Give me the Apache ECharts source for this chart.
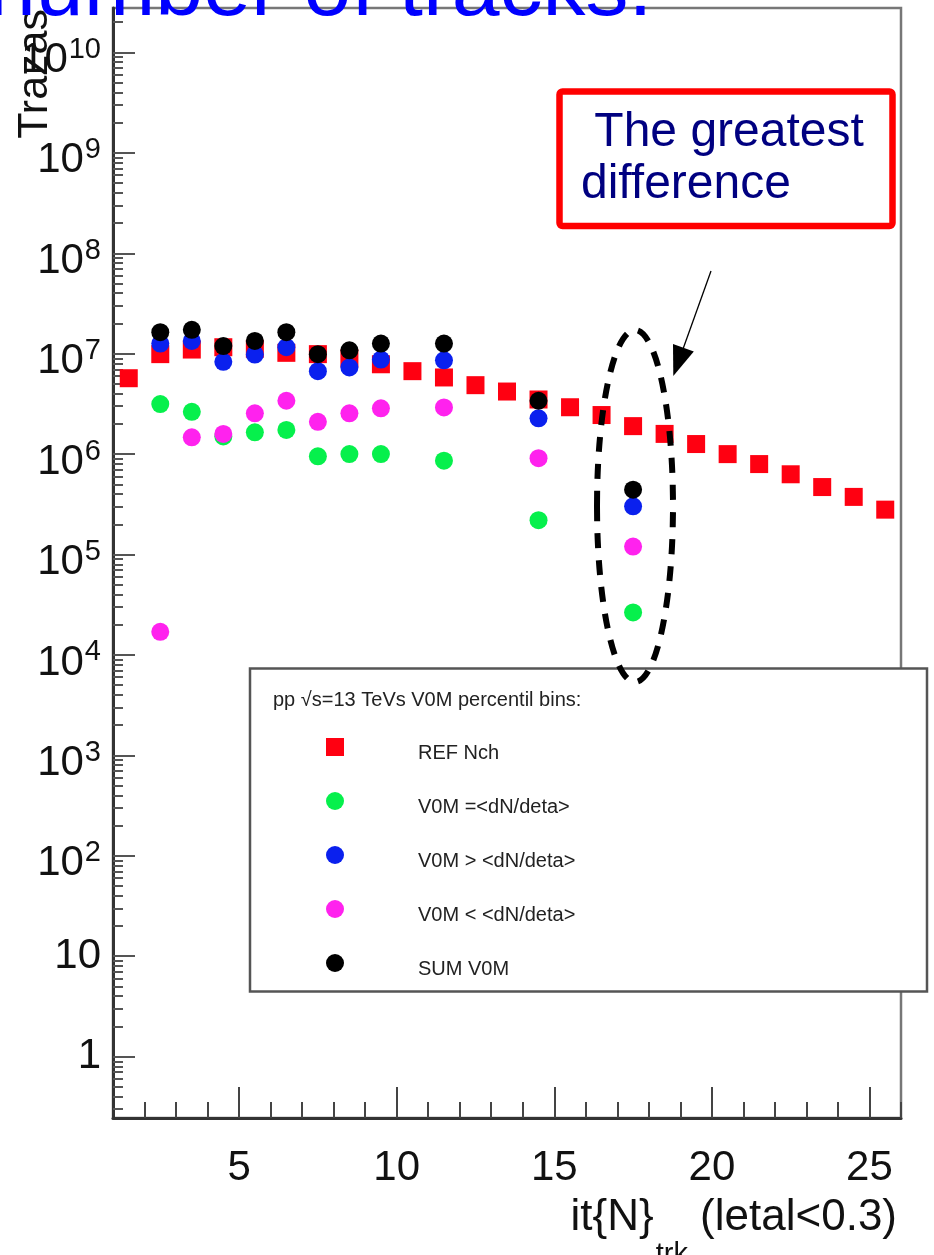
<!DOCTYPE html>
<html>
<head>
<meta charset="utf-8">
<script src="https://cdn.jsdelivr.net/npm/echarts@6/dist/echarts.min.js"></script>
<style>
  html, body { margin: 0; padding: 0; background: #fff; }
  #chart { width: 934px; height: 1255px; }
</style>
</head>
<body>
<div id="chart"></div>
<script>
// bin centres of the reference distribution
const refX = [1.5, 2.5, 3.5, 4.5, 5.5, 6.5, 7.5, 8.5, 9.5, 10.5, 11.5, 12.5, 13.5,
  14.5, 15.5, 16.5, 17.5, 18.5, 19.5, 20.5, 21.5, 22.5, 23.5, 24.5, 25.5];
const refNch = [5.7e6, 9.9e6, 1.1e7, 1.16e7, 1.12e7, 1.02e7, 9.9e6, 9.0e6, 7.85e6, 6.7e6,
  5.8e6, 4.86e6, 4.2e6, 3.5e6, 2.93e6, 2.45e6, 1.9e6, 1.59e6, 1.26e6, 1.0e6,
  7.96e5, 6.3e5, 4.7e5, 3.75e5, 2.8e5];

// bins filled by the V0M percentile selections
const v0mX = [2.5, 3.5, 4.5, 5.5, 6.5, 7.5, 8.5, 9.5, 11.5, 14.5, 17.5];
const v0mEq = [3.15e6, 2.64e6, 1.5e6, 1.65e6, 1.74e6, 9.5e5, 1.0e6, 1.0e6, 8.6e5, 2.2e5, 2.65e4];
const v0mGt = [1.26e7, 1.34e7, 8.3e6, 9.8e6, 1.16e7, 6.7e6, 7.3e6, 8.75e6, 8.6e6, 2.27e6, 3.02e5];
const v0mLt = [1.7e4, 1.47e6, 1.59e6, 2.55e6, 3.4e6, 2.1e6, 2.55e6, 2.86e6, 2.92e6, 9.1e5, 1.2e5];
const v0mSum = [1.64e7, 1.73e7, 1.19e7, 1.34e7, 1.64e7, 9.9e6, 1.08e7, 1.26e7, 1.26e7, 3.4e6, 4.42e5];

const seriesNames = ['REF Nch', 'V0M =<dN/deta>', 'V0M > <dN/deta>', 'V0M < <dN/deta>', 'SUM V0M'];

// axis ticks
const xMajorTicks = [5, 10, 15, 20, 25];
const xMinorTicks = [2, 3, 4, 6, 7, 8, 9, 11, 12, 13, 14, 16, 17, 18, 19, 21, 22, 23, 24, 26];
const yMajorTicks = [1, 10, 1e2, 1e3, 1e4, 1e5, 1e6, 1e7, 1e8, 1e9, 1e10];
const yMinorMult = [2, 3, 4, 5, 6, 7, 8, 9];

const yMinorTicks = [];
for (let e = -1; e <= 10; e++) {
  yMinorMult.forEach(m => yMinorTicks.push(m * Math.pow(10, e)));
}

const FONT = '"Liberation Sans", Arial, Helvetica, sans-serif';
const pairs = (xs, ys) => xs.map((x, i) => [x, ys[i]]);

const chart = echarts.init(document.getElementById('chart'), null, { renderer: 'canvas' });

const yLabelFormatter = (value) => {
  const e = Math.round(Math.log10(value));
  if (e === 0) return '{p|1}';
  if (e === 1) return '{p|10}';
  return '{b|10}{s|' + e + '}';
};

const scatter = (name, data, symbol, color) => ({
  name: name,
  type: 'scatter',
  data: data,
  symbol: symbol,
  symbolSize: 18,
  itemStyle: { color: color, opacity: 1 },
  emphasis: { disabled: true },
  z: 2,
});

const option = {
  backgroundColor: '#fff',
  animation: false,
  textStyle: { fontFamily: FONT },
  grid: {
    left: 113,
    right: 33,
    top: 8,
    bottom: 137,
    show: true,
    borderColor: '#777',
    borderWidth: 2.5,
    outerBoundsMode: 'none',
  },
  legend: {
    orient: 'vertical',
    left: 326,
    top: 738,
    padding: 0,
    itemWidth: 18,
    itemHeight: 18,
    itemGap: 29,
    selectedMode: false,
    z: 6,
    data: seriesNames,
    formatter: name => '{t|' + name + '}',
    textStyle: {
      fontFamily: FONT,
      fontSize: 20,
      color: '#222',
      padding: [0, 0, 0, 69],
      rich: {
        t: { fontFamily: FONT, fontSize: 20, color: '#222', padding: [12, 0, 0, 0] },
      },
    },
  },
  xAxis: [
    {
      type: 'value',
      min: 1,
      max: 26,
      splitLine: { show: false },
      axisLine: { onZero: false, lineStyle: { color: '#333', width: 3 } },
      axisTick: {
        inside: true,
        length: 31,
        customValues: xMajorTicks,
        lineStyle: { color: '#444', width: 2 },
      },
      axisLabel: {
        customValues: xMajorTicks,
        fontFamily: FONT,
        fontSize: 42,
        color: '#111',
        margin: 29,
      },
    },
    {
      type: 'value',
      min: 1,
      max: 26,
      position: 'bottom',
      splitLine: { show: false },
      axisLine: { show: false, onZero: false },
      axisLabel: { show: false },
      axisTick: {
        inside: true,
        length: 16,
        customValues: xMinorTicks,
        lineStyle: { color: '#444', width: 2 },
      },
    },
  ],
  yAxis: [
    {
      type: 'log',
      logBase: 10,
      min: 0.245,
      max: 2.77e10,
      splitLine: { show: false },
      axisLine: { show: true, onZero: false, lineStyle: { color: '#333', width: 3 } },
      axisTick: {
        show: true,
        inside: true,
        length: 22,
        customValues: yMajorTicks,
        lineStyle: { color: '#555', width: 2 },
      },
      axisLabel: {
        customValues: yMajorTicks,
        formatter: yLabelFormatter,
        margin: 12,
        color: '#111',
        rich: {
          p: { fontFamily: FONT, fontSize: 42, lineHeight: 42, color: '#111' },
          b: { fontFamily: FONT, fontSize: 42, padding: [16, 0, 0, 0], verticalAlign: 'bottom', color: '#111' },
          s: { fontFamily: FONT, fontSize: 29, padding: [12, 0, 0, 1], verticalAlign: 'top', color: '#111' },
        },
      },
    },
    {
      type: 'log',
      logBase: 10,
      min: 0.245,
      max: 2.77e10,
      position: 'left',
      splitLine: { show: false },
      axisLine: { show: false, onZero: false },
      axisLabel: { show: false },
      axisTick: {
        show: true,
        inside: true,
        length: 10,
        customValues: yMinorTicks,
        lineStyle: { color: '#555', width: 2 },
      },
    },
  ],
  series: [
    scatter(seriesNames[0], pairs(refX, refNch), 'rect', '#ff0011'),
    scatter(seriesNames[1], pairs(v0mX, v0mEq), 'circle', '#06f04c'),
    scatter(seriesNames[2], pairs(v0mX, v0mGt), 'circle', '#0a20ee'),
    scatter(seriesNames[3], pairs(v0mX, v0mLt), 'circle', '#ff22ee'),
    scatter(seriesNames[4], pairs(v0mX, v0mSum), 'circle', '#000000'),
  ],
  graphic: [
    // legend frame
    {
      type: 'rect',
      z: 3,
      shape: { x: 250, y: 668.5, width: 677, height: 323 },
      style: { fill: '#fff', stroke: '#555', lineWidth: 2.5 },
    },
    {
      type: 'text',
      z: 6,
      x: 273,
      y: 700,
      style: {
        text: 'pp √s=13 TeVs V0M percentil bins:',
        fontFamily: FONT,
        fontSize: 20,
        fill: '#222',
        verticalAlign: 'middle',
      },
    },
    // y axis title
    {
      type: 'text',
      z: 5,
      x: 35,
      y: 9,
      rotation: Math.PI / 2,
      style: {
        text: 'Trazas',
        fontFamily: FONT,
        fontSize: 43,
        fill: '#111',
        align: 'right',
        verticalAlign: 'middle',
      },
    },
    // x axis title
    {
      type: 'text',
      z: 5,
      x: 897,
      y: 1217.5,
      style: {
        text: 'it{N}{s|trk} (letal<0.3)',
        fontFamily: FONT,
        fontSize: 44,
        fill: '#111',
        align: 'right',
        verticalAlign: 'middle',
        rich: {
          s: { fontFamily: FONT, fontSize: 29, padding: [74, 0, 0, 2] },
        },
      },
    },
    // slide title, cut off at the top
    {
      type: 'text',
      z: 20,
      x: -12,
      y: -9,
      style: {
        text: 'number of tracks.',
        fontFamily: FONT,
        fontSize: 86,
        fill: '#0000ff',
        verticalAlign: 'middle',
      },
    },
    // annotation box
    {
      type: 'rect',
      z: 8,
      shape: { x: 559.5, y: 91.5, width: 333, height: 134.5, r: 3 },
      style: { fill: '#fff', stroke: '#ff0000', lineWidth: 6.5 },
    },
    {
      type: 'text',
      z: 9,
      x: 581,
      y: 107,
      style: {
        text: ' The greatest\ndifference',
        fontFamily: FONT,
        fontSize: 48,
        lineHeight: 52,
        fill: '#000080',
        verticalAlign: 'top',
      },
    },
    // arrow
    {
      type: 'line',
      z: 9,
      shape: { x1: 711, y1: 271, x2: 683, y2: 349 },
      style: { stroke: '#000', lineWidth: 1.3 },
    },
    {
      type: 'polygon',
      z: 9,
      shape: { points: [[673.3, 376], [673, 344.1], [693.8, 351.5]] },
      style: { fill: '#000' },
    },
    // dashed ellipse
    {
      type: 'ellipse',
      z: 10,
      shape: { cx: 635, cy: 506, rx: 38, ry: 176 },
      style: { fill: 'none', stroke: '#000', lineWidth: 6, lineDash: [15, 12] },
    },
  ],
};

chart.setOption(option);
window.addEventListener('resize', () => chart.resize());
</script>
</body>
</html>
